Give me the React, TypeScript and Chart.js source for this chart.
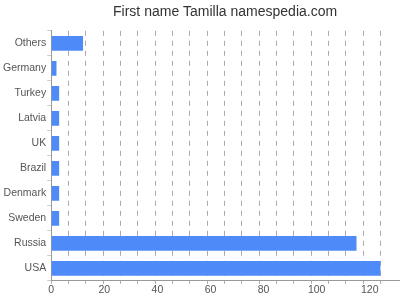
import React, { useEffect, useRef } from "react";
import { Chart, registerables } from "chart.js";

Chart.register(...registerables);

const TITLE = "First name Tamilla namespedia.com";
const CATEGORIES = ["Others", "Germany", "Turkey", "Latvia", "UK", "Brazil", "Denmark", "Sweden", "Russia", "USA"];
const VALUES = [12, 2, 3, 3, 3, 3, 3, 3, 115, 124];
const X_TICKS = [0, 20, 40, 60, 80, 100, 120];
const X_MAX = 131;
const GRID_STEP = 6.53;
const GRID_COUNT = 19;

const FONT = "'Liberation Sans', Arial, sans-serif";

export default function App() {
  const ref = useRef<HTMLCanvasElement | null>(null);

  useEffect(() => {
    document.body.style.margin = "0";
    const canvas = ref.current;
    if (!canvas) return;
    const gridValues: number[] = [];
    for (let k = 0; k <= GRID_COUNT; k++) gridValues.push(+(k * GRID_STEP).toFixed(3));

    const chart = new Chart(canvas, {
      type: "bar",
      data: {
        labels: CATEGORIES,
        datasets: [
          {
            data: VALUES,
            backgroundColor: "#4f8bf8",
            borderWidth: 0,
            barPercentage: 0.59,
            categoryPercentage: 1,
          },
        ],
      },
      options: {
        indexAxis: "y",
        animation: false,
        responsive: false,
        maintainAspectRatio: false,
        layout: { padding: { left: 2, right: 1, top: 0, bottom: 3.6 } },
        plugins: {
          legend: { display: false },
          tooltip: { enabled: false },
          title: {
            display: true,
            text: TITLE,
            fullSize: false,
            color: "#333333",
            font: { family: FONT, size: 14, weight: "normal" },
            padding: { top: 4, bottom: 10 },
          },
        },
        scales: {
          y: {
            type: "category",
            grid: { display: true, drawOnChartArea: false, tickLength: 4, color: "#cccccc" },
            border: { display: true, color: "#999999" },
            ticks: { color: "#555555", padding: 1, font: { family: FONT, size: 10.5 } },
          },
          x2: {
            type: "linear",
            position: "bottom",
            axis: "x",
            min: 0,
            max: X_MAX,
            weight: 0,
            afterBuildTicks: (scale: any) => {
              scale.ticks = gridValues.map((v) => ({ value: v }));
            },
            grid: {
              display: true,
              color: "#aaaaaa",
              tickLength: 3,
              tickColor: "#aaaaaa",
              drawTicks: true,
              tickBorderDash: [],
            },
            border: { display: true, color: "#999999", dash: [5, 5] },
            ticks: { display: false },
          },
          x: {
            type: "linear",
            position: "bottom",
            min: 0,
            max: X_MAX,
            weight: 1,
            afterBuildTicks: (scale: any) => {
              scale.ticks = X_TICKS.map((v) => ({ value: v }));
            },
            grid: { display: false, drawTicks: false },
            border: { display: false },
            ticks: { color: "#555555", padding: 0, font: { family: FONT, size: 10.5 } },
          },
        },
      } as any,
    });
    return () => chart.destroy();
  }, []);

  return (
    <div style={{ position: "absolute", left: 0, top: 0, width: 400, height: 300 }}>
      <canvas ref={ref} width={400} height={300} />
    </div>
  );
}
